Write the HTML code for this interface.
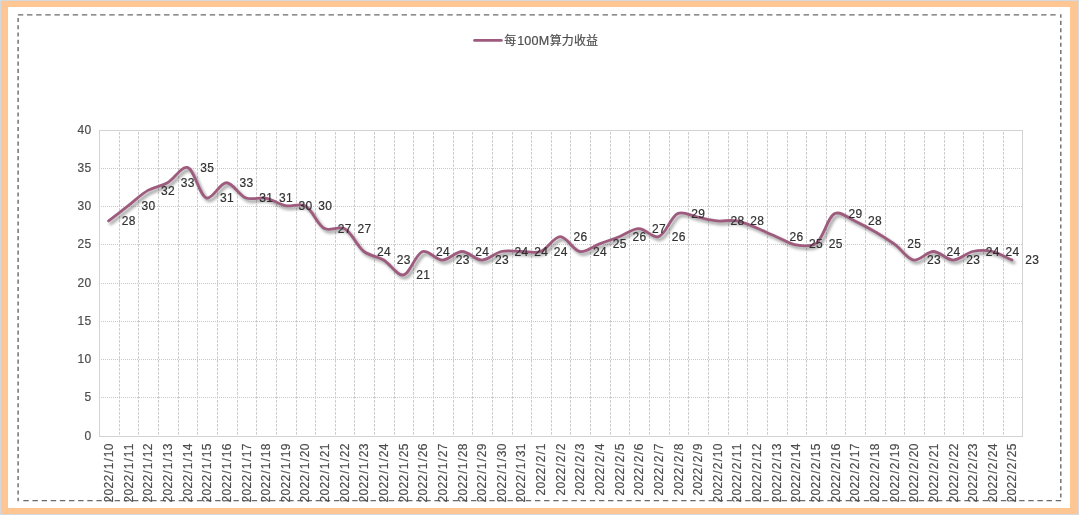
<!DOCTYPE html>
<html lang="zh-CN"><head><meta charset="utf-8"><title>每100M算力收益</title>
<style>html,body{margin:0;padding:0;background:#fff;overflow:hidden}svg{display:block}text{white-space:pre}</style></head>
<body>
<svg width="1079" height="515" viewBox="0 0 1079 515" font-family='"Liberation Sans","Noto Sans CJK SC",sans-serif' font-size="12">
<defs><filter id="sh" x="-5%" y="-20%" width="110%" height="150%"><feGaussianBlur stdDeviation="1.6"/></filter><clipPath id="ca"><rect x="8" y="7" width="1062" height="494.7"/></clipPath></defs>
<rect x="0" y="0" width="1079" height="515" fill="#D5D8DC"/>
<rect x="1" y="1" width="1077" height="513" fill="#FDC692"/>
<rect x="8" y="7" width="1062" height="501" fill="#FFFFFF"/>
<g stroke="#6A6A6A" stroke-width="1.2" fill="none">
<line x1="17.9" y1="14.8" x2="1056" y2="14.8" stroke-dasharray="5.4 3.736"/>
<line x1="1061.1" y1="500.6" x2="20" y2="500.6" stroke-dasharray="5.4 3.736"/>
<line x1="18.1" y1="17.9" x2="18.1" y2="501.2" stroke-dasharray="4.15 3.12" stroke-width="1.4"/>
<line x1="1060.8" y1="14.2" x2="1060.8" y2="498" stroke-dasharray="4.15 3.12" stroke-dashoffset="0.6" stroke-width="1.4"/>
</g>
<g stroke="#CACACA" stroke-width="1" fill="none">
<line x1="101.0" y1="168.50" x2="1022.5" y2="168.50" stroke-dasharray="1 1" stroke="#C8C8C8"/>
<line x1="101.0" y1="206.50" x2="1022.5" y2="206.50" stroke-dasharray="1 1" stroke="#C8C8C8"/>
<line x1="101.0" y1="244.50" x2="1022.5" y2="244.50" stroke-dasharray="1 1" stroke="#C8C8C8"/>
<line x1="101.0" y1="283.50" x2="1022.5" y2="283.50" stroke-dasharray="1 1" stroke="#C8C8C8"/>
<line x1="101.0" y1="321.50" x2="1022.5" y2="321.50" stroke-dasharray="1 1" stroke="#C8C8C8"/>
<line x1="101.0" y1="359.50" x2="1022.5" y2="359.50" stroke-dasharray="1 1" stroke="#C8C8C8"/>
<line x1="101.0" y1="397.50" x2="1022.5" y2="397.50" stroke-dasharray="1 1" stroke="#C8C8C8"/>
<line x1="119.50" y1="132.1" x2="119.50" y2="436.5" stroke-dasharray="2.6 1.4"/>
<line x1="138.50" y1="132.1" x2="138.50" y2="436.5" stroke-dasharray="2.6 1.4"/>
<line x1="158.50" y1="132.1" x2="158.50" y2="436.5" stroke-dasharray="2.6 1.4"/>
<line x1="178.50" y1="132.1" x2="178.50" y2="436.5" stroke-dasharray="2.6 1.4"/>
<line x1="197.50" y1="132.1" x2="197.50" y2="436.5" stroke-dasharray="2.6 1.4"/>
<line x1="217.50" y1="132.1" x2="217.50" y2="436.5" stroke-dasharray="2.6 1.4"/>
<line x1="237.50" y1="132.1" x2="237.50" y2="436.5" stroke-dasharray="2.6 1.4"/>
<line x1="256.50" y1="132.1" x2="256.50" y2="436.5" stroke-dasharray="2.6 1.4"/>
<line x1="276.50" y1="132.1" x2="276.50" y2="436.5" stroke-dasharray="2.6 1.4"/>
<line x1="296.50" y1="132.1" x2="296.50" y2="436.5" stroke-dasharray="2.6 1.4"/>
<line x1="315.50" y1="132.1" x2="315.50" y2="436.5" stroke-dasharray="2.6 1.4"/>
<line x1="335.50" y1="132.1" x2="335.50" y2="436.5" stroke-dasharray="2.6 1.4"/>
<line x1="354.50" y1="132.1" x2="354.50" y2="436.5" stroke-dasharray="2.6 1.4"/>
<line x1="374.50" y1="132.1" x2="374.50" y2="436.5" stroke-dasharray="2.6 1.4"/>
<line x1="394.50" y1="132.1" x2="394.50" y2="436.5" stroke-dasharray="2.6 1.4"/>
<line x1="413.50" y1="132.1" x2="413.50" y2="436.5" stroke-dasharray="2.6 1.4"/>
<line x1="433.50" y1="132.1" x2="433.50" y2="436.5" stroke-dasharray="2.6 1.4"/>
<line x1="453.50" y1="132.1" x2="453.50" y2="436.5" stroke-dasharray="2.6 1.4"/>
<line x1="472.50" y1="132.1" x2="472.50" y2="436.5" stroke-dasharray="2.6 1.4"/>
<line x1="492.50" y1="132.1" x2="492.50" y2="436.5" stroke-dasharray="2.6 1.4"/>
<line x1="512.50" y1="132.1" x2="512.50" y2="436.5" stroke-dasharray="2.6 1.4"/>
<line x1="531.50" y1="132.1" x2="531.50" y2="436.5" stroke-dasharray="2.6 1.4"/>
<line x1="551.50" y1="132.1" x2="551.50" y2="436.5" stroke-dasharray="2.6 1.4"/>
<line x1="570.50" y1="132.1" x2="570.50" y2="436.5" stroke-dasharray="2.6 1.4"/>
<line x1="590.50" y1="132.1" x2="590.50" y2="436.5" stroke-dasharray="2.6 1.4"/>
<line x1="610.50" y1="132.1" x2="610.50" y2="436.5" stroke-dasharray="2.6 1.4"/>
<line x1="629.50" y1="132.1" x2="629.50" y2="436.5" stroke-dasharray="2.6 1.4"/>
<line x1="649.50" y1="132.1" x2="649.50" y2="436.5" stroke-dasharray="2.6 1.4"/>
<line x1="669.50" y1="132.1" x2="669.50" y2="436.5" stroke-dasharray="2.6 1.4"/>
<line x1="688.50" y1="132.1" x2="688.50" y2="436.5" stroke-dasharray="2.6 1.4"/>
<line x1="708.50" y1="132.1" x2="708.50" y2="436.5" stroke-dasharray="2.6 1.4"/>
<line x1="728.50" y1="132.1" x2="728.50" y2="436.5" stroke-dasharray="2.6 1.4"/>
<line x1="747.50" y1="132.1" x2="747.50" y2="436.5" stroke-dasharray="2.6 1.4"/>
<line x1="767.50" y1="132.1" x2="767.50" y2="436.5" stroke-dasharray="2.6 1.4"/>
<line x1="787.50" y1="132.1" x2="787.50" y2="436.5" stroke-dasharray="2.6 1.4"/>
<line x1="806.50" y1="132.1" x2="806.50" y2="436.5" stroke-dasharray="2.6 1.4"/>
<line x1="826.50" y1="132.1" x2="826.50" y2="436.5" stroke-dasharray="2.6 1.4"/>
<line x1="845.50" y1="132.1" x2="845.50" y2="436.5" stroke-dasharray="2.6 1.4"/>
<line x1="865.50" y1="132.1" x2="865.50" y2="436.5" stroke-dasharray="2.6 1.4"/>
<line x1="885.50" y1="132.1" x2="885.50" y2="436.5" stroke-dasharray="2.6 1.4"/>
<line x1="904.50" y1="132.1" x2="904.50" y2="436.5" stroke-dasharray="2.6 1.4"/>
<line x1="924.50" y1="132.1" x2="924.50" y2="436.5" stroke-dasharray="2.6 1.4"/>
<line x1="944.50" y1="132.1" x2="944.50" y2="436.5" stroke-dasharray="2.6 1.4"/>
<line x1="963.50" y1="132.1" x2="963.50" y2="436.5" stroke-dasharray="2.6 1.4"/>
<line x1="983.50" y1="132.1" x2="983.50" y2="436.5" stroke-dasharray="2.6 1.4"/>
<line x1="1003.50" y1="132.1" x2="1003.50" y2="436.5" stroke-dasharray="2.6 1.4"/>
<rect x="99.5" y="130.5" width="923.0" height="306.0" stroke="#D3D3D3"/>
</g>
<g fill="#4C4C4C" stroke="#4C4C4C" stroke-width="0.18">
<text x="84.56" y="439.70">0</text>
<text x="84.56" y="400.70">5</text>
<text x="77.56 84.56" y="362.70">10</text>
<text x="77.56 84.56" y="324.70">15</text>
<text x="77.56 84.56" y="286.70">20</text>
<text x="77.56 84.56" y="247.70">25</text>
<text x="77.56 84.56" y="209.70">30</text>
<text x="77.56 84.56" y="171.70">35</text>
<text x="77.56 84.56" y="133.70">40</text>
</g>
<g fill="#4C4C4C" stroke="#4C4C4C" stroke-width="0.18" clip-path="url(#ca)">
<text transform="translate(113.07,502.70) rotate(-90)" x="0.16 7.16 14.16 21.16 28.93 33.36 41.13 45.56 52.56" y="0">2022/1/10</text>
<text transform="translate(132.71,502.70) rotate(-90)" x="0.16 7.16 14.16 21.16 28.93 33.36 41.13 45.56 52.56" y="0">2022/1/11</text>
<text transform="translate(152.35,502.70) rotate(-90)" x="0.16 7.16 14.16 21.16 28.93 33.36 41.13 45.56 52.56" y="0">2022/1/12</text>
<text transform="translate(171.98,502.70) rotate(-90)" x="0.16 7.16 14.16 21.16 28.93 33.36 41.13 45.56 52.56" y="0">2022/1/13</text>
<text transform="translate(191.62,502.70) rotate(-90)" x="0.16 7.16 14.16 21.16 28.93 33.36 41.13 45.56 52.56" y="0">2022/1/14</text>
<text transform="translate(211.26,502.70) rotate(-90)" x="0.16 7.16 14.16 21.16 28.93 33.36 41.13 45.56 52.56" y="0">2022/1/15</text>
<text transform="translate(230.90,502.70) rotate(-90)" x="0.16 7.16 14.16 21.16 28.93 33.36 41.13 45.56 52.56" y="0">2022/1/16</text>
<text transform="translate(250.54,502.70) rotate(-90)" x="0.16 7.16 14.16 21.16 28.93 33.36 41.13 45.56 52.56" y="0">2022/1/17</text>
<text transform="translate(270.18,502.70) rotate(-90)" x="0.16 7.16 14.16 21.16 28.93 33.36 41.13 45.56 52.56" y="0">2022/1/18</text>
<text transform="translate(289.81,502.70) rotate(-90)" x="0.16 7.16 14.16 21.16 28.93 33.36 41.13 45.56 52.56" y="0">2022/1/19</text>
<text transform="translate(309.45,502.70) rotate(-90)" x="0.16 7.16 14.16 21.16 28.93 33.36 41.13 45.56 52.56" y="0">2022/1/20</text>
<text transform="translate(329.09,502.70) rotate(-90)" x="0.16 7.16 14.16 21.16 28.93 33.36 41.13 45.56 52.56" y="0">2022/1/21</text>
<text transform="translate(348.73,502.70) rotate(-90)" x="0.16 7.16 14.16 21.16 28.93 33.36 41.13 45.56 52.56" y="0">2022/1/22</text>
<text transform="translate(368.37,502.70) rotate(-90)" x="0.16 7.16 14.16 21.16 28.93 33.36 41.13 45.56 52.56" y="0">2022/1/23</text>
<text transform="translate(388.01,502.70) rotate(-90)" x="0.16 7.16 14.16 21.16 28.93 33.36 41.13 45.56 52.56" y="0">2022/1/24</text>
<text transform="translate(407.64,502.70) rotate(-90)" x="0.16 7.16 14.16 21.16 28.93 33.36 41.13 45.56 52.56" y="0">2022/1/25</text>
<text transform="translate(427.28,502.70) rotate(-90)" x="0.16 7.16 14.16 21.16 28.93 33.36 41.13 45.56 52.56" y="0">2022/1/26</text>
<text transform="translate(446.92,502.70) rotate(-90)" x="0.16 7.16 14.16 21.16 28.93 33.36 41.13 45.56 52.56" y="0">2022/1/27</text>
<text transform="translate(466.56,502.70) rotate(-90)" x="0.16 7.16 14.16 21.16 28.93 33.36 41.13 45.56 52.56" y="0">2022/1/28</text>
<text transform="translate(486.20,502.70) rotate(-90)" x="0.16 7.16 14.16 21.16 28.93 33.36 41.13 45.56 52.56" y="0">2022/1/29</text>
<text transform="translate(505.84,502.70) rotate(-90)" x="0.16 7.16 14.16 21.16 28.93 33.36 41.13 45.56 52.56" y="0">2022/1/30</text>
<text transform="translate(525.47,502.70) rotate(-90)" x="0.16 7.16 14.16 21.16 28.93 33.36 41.13 45.56 52.56" y="0">2022/1/31</text>
<text transform="translate(545.11,495.70) rotate(-90)" x="0.16 7.16 14.16 21.16 28.93 33.36 41.13 45.56" y="0">2022/2/1</text>
<text transform="translate(564.75,495.70) rotate(-90)" x="0.16 7.16 14.16 21.16 28.93 33.36 41.13 45.56" y="0">2022/2/2</text>
<text transform="translate(584.39,495.70) rotate(-90)" x="0.16 7.16 14.16 21.16 28.93 33.36 41.13 45.56" y="0">2022/2/3</text>
<text transform="translate(604.03,495.70) rotate(-90)" x="0.16 7.16 14.16 21.16 28.93 33.36 41.13 45.56" y="0">2022/2/4</text>
<text transform="translate(623.66,495.70) rotate(-90)" x="0.16 7.16 14.16 21.16 28.93 33.36 41.13 45.56" y="0">2022/2/5</text>
<text transform="translate(643.30,495.70) rotate(-90)" x="0.16 7.16 14.16 21.16 28.93 33.36 41.13 45.56" y="0">2022/2/6</text>
<text transform="translate(662.94,495.70) rotate(-90)" x="0.16 7.16 14.16 21.16 28.93 33.36 41.13 45.56" y="0">2022/2/7</text>
<text transform="translate(682.58,495.70) rotate(-90)" x="0.16 7.16 14.16 21.16 28.93 33.36 41.13 45.56" y="0">2022/2/8</text>
<text transform="translate(702.22,495.70) rotate(-90)" x="0.16 7.16 14.16 21.16 28.93 33.36 41.13 45.56" y="0">2022/2/9</text>
<text transform="translate(721.86,502.70) rotate(-90)" x="0.16 7.16 14.16 21.16 28.93 33.36 41.13 45.56 52.56" y="0">2022/2/10</text>
<text transform="translate(741.49,502.70) rotate(-90)" x="0.16 7.16 14.16 21.16 28.93 33.36 41.13 45.56 52.56" y="0">2022/2/11</text>
<text transform="translate(761.13,502.70) rotate(-90)" x="0.16 7.16 14.16 21.16 28.93 33.36 41.13 45.56 52.56" y="0">2022/2/12</text>
<text transform="translate(780.77,502.70) rotate(-90)" x="0.16 7.16 14.16 21.16 28.93 33.36 41.13 45.56 52.56" y="0">2022/2/13</text>
<text transform="translate(800.41,502.70) rotate(-90)" x="0.16 7.16 14.16 21.16 28.93 33.36 41.13 45.56 52.56" y="0">2022/2/14</text>
<text transform="translate(820.05,502.70) rotate(-90)" x="0.16 7.16 14.16 21.16 28.93 33.36 41.13 45.56 52.56" y="0">2022/2/15</text>
<text transform="translate(839.69,502.70) rotate(-90)" x="0.16 7.16 14.16 21.16 28.93 33.36 41.13 45.56 52.56" y="0">2022/2/16</text>
<text transform="translate(859.32,502.70) rotate(-90)" x="0.16 7.16 14.16 21.16 28.93 33.36 41.13 45.56 52.56" y="0">2022/2/17</text>
<text transform="translate(878.96,502.70) rotate(-90)" x="0.16 7.16 14.16 21.16 28.93 33.36 41.13 45.56 52.56" y="0">2022/2/18</text>
<text transform="translate(898.60,502.70) rotate(-90)" x="0.16 7.16 14.16 21.16 28.93 33.36 41.13 45.56 52.56" y="0">2022/2/19</text>
<text transform="translate(918.24,502.70) rotate(-90)" x="0.16 7.16 14.16 21.16 28.93 33.36 41.13 45.56 52.56" y="0">2022/2/20</text>
<text transform="translate(937.88,502.70) rotate(-90)" x="0.16 7.16 14.16 21.16 28.93 33.36 41.13 45.56 52.56" y="0">2022/2/21</text>
<text transform="translate(957.52,502.70) rotate(-90)" x="0.16 7.16 14.16 21.16 28.93 33.36 41.13 45.56 52.56" y="0">2022/2/22</text>
<text transform="translate(977.15,502.70) rotate(-90)" x="0.16 7.16 14.16 21.16 28.93 33.36 41.13 45.56 52.56" y="0">2022/2/23</text>
<text transform="translate(996.79,502.70) rotate(-90)" x="0.16 7.16 14.16 21.16 28.93 33.36 41.13 45.56 52.56" y="0">2022/2/24</text>
<text transform="translate(1016.43,502.70) rotate(-90)" x="0.16 7.16 14.16 21.16 28.93 33.36 41.13 45.56 52.56" y="0">2022/2/25</text>
</g>
<path d="M109.32,222.15C115.87,217.06 122.41,211.97 128.96,206.88C135.50,201.78 141.75,195.48 148.60,191.60C154.89,188.03 161.94,187.53 168.23,183.96C175.08,180.08 181.84,167.66 187.87,168.69C195.16,169.93 200.22,197.99 207.51,199.24C213.55,200.27 220.60,183.96 227.15,183.96C233.70,183.96 239.81,196.84 246.79,199.24C252.99,201.37 259.99,198.03 266.43,199.24C273.09,200.49 279.40,205.62 286.06,206.88C292.50,208.08 299.72,204.12 305.70,206.88C313.12,210.29 317.93,226.38 325.34,229.79C331.32,232.54 339.00,227.04 344.98,229.79C352.39,233.20 357.41,247.37 364.62,252.70C370.69,257.19 377.92,257.55 384.26,261.25C391.05,265.23 397.66,276.85 403.89,276.15C410.83,275.36 416.29,254.41 423.53,252.70C429.59,251.27 436.62,261.25 443.17,261.25C449.72,261.25 456.26,252.70 462.81,252.70C469.35,252.70 475.90,261.25 482.45,261.25C488.99,261.25 495.39,254.09 502.09,252.70C508.50,251.36 515.18,252.70 521.72,252.70C528.27,252.70 535.14,254.78 541.36,252.70C548.32,250.37 554.45,237.88 561.00,237.88C567.55,237.88 573.82,251.75 580.64,252.70C586.95,253.57 593.72,247.54 600.28,245.06C606.81,242.60 613.39,240.42 619.91,237.88C626.49,235.33 633.01,229.79 639.55,229.79C646.10,229.79 653.14,239.37 659.19,237.88C666.45,236.10 671.43,217.13 678.83,214.51C684.82,212.39 691.92,217.06 698.47,218.33C705.01,219.60 711.53,221.52 718.11,222.15C724.62,222.78 730.24,220.70 737.74,222.15C748.76,224.28 766.19,233.46 777.02,237.88C784.70,241.02 789.98,244.90 796.66,246.06C803.08,247.17 810.48,248.43 816.30,245.06C824.20,240.49 828.23,217.02 835.94,214.51C841.81,212.60 848.07,218.53 855.57,222.15C866.60,227.47 884.24,237.67 894.85,245.06C902.79,250.60 907.64,260.29 914.49,261.25C920.78,262.14 927.58,252.70 934.13,252.70C940.67,252.70 947.22,261.25 953.77,261.25C960.31,261.25 966.71,254.09 973.40,252.70C979.81,251.36 986.63,251.36 993.04,252.70C999.74,254.09 1006.13,258.40 1012.68,261.25" transform="translate(1.5000000000000002,1.4000000000000001)" fill="none" stroke="#000" stroke-opacity="0.36" stroke-width="3.2" stroke-linecap="round" stroke-linejoin="round" filter="url(#sh)"/>
<path d="M109.32,222.15C115.87,217.06 122.41,211.97 128.96,206.88C135.50,201.78 141.75,195.48 148.60,191.60C154.89,188.03 161.94,187.53 168.23,183.96C175.08,180.08 181.84,167.66 187.87,168.69C195.16,169.93 200.22,197.99 207.51,199.24C213.55,200.27 220.60,183.96 227.15,183.96C233.70,183.96 239.81,196.84 246.79,199.24C252.99,201.37 259.99,198.03 266.43,199.24C273.09,200.49 279.40,205.62 286.06,206.88C292.50,208.08 299.72,204.12 305.70,206.88C313.12,210.29 317.93,226.38 325.34,229.79C331.32,232.54 339.00,227.04 344.98,229.79C352.39,233.20 357.41,247.37 364.62,252.70C370.69,257.19 377.92,257.55 384.26,261.25C391.05,265.23 397.66,276.85 403.89,276.15C410.83,275.36 416.29,254.41 423.53,252.70C429.59,251.27 436.62,261.25 443.17,261.25C449.72,261.25 456.26,252.70 462.81,252.70C469.35,252.70 475.90,261.25 482.45,261.25C488.99,261.25 495.39,254.09 502.09,252.70C508.50,251.36 515.18,252.70 521.72,252.70C528.27,252.70 535.14,254.78 541.36,252.70C548.32,250.37 554.45,237.88 561.00,237.88C567.55,237.88 573.82,251.75 580.64,252.70C586.95,253.57 593.72,247.54 600.28,245.06C606.81,242.60 613.39,240.42 619.91,237.88C626.49,235.33 633.01,229.79 639.55,229.79C646.10,229.79 653.14,239.37 659.19,237.88C666.45,236.10 671.43,217.13 678.83,214.51C684.82,212.39 691.92,217.06 698.47,218.33C705.01,219.60 711.53,221.52 718.11,222.15C724.62,222.78 730.24,220.70 737.74,222.15C748.76,224.28 766.19,233.46 777.02,237.88C784.70,241.02 789.98,244.90 796.66,246.06C803.08,247.17 810.48,248.43 816.30,245.06C824.20,240.49 828.23,217.02 835.94,214.51C841.81,212.60 848.07,218.53 855.57,222.15C866.60,227.47 884.24,237.67 894.85,245.06C902.79,250.60 907.64,260.29 914.49,261.25C920.78,262.14 927.58,252.70 934.13,252.70C940.67,252.70 947.22,261.25 953.77,261.25C960.31,261.25 966.71,254.09 973.40,252.70C979.81,251.36 986.63,251.36 993.04,252.70C999.74,254.09 1006.13,258.40 1012.68,261.25" transform="translate(-0.7,-1.2)" fill="none" stroke="#9E5B7E" stroke-width="2.8" stroke-linecap="round" stroke-linejoin="round"/>
<g fill="#303030" stroke="#303030" stroke-width="0.18">
<text x="121.78 128.78" y="225.15">28</text>
<text x="141.42 148.42" y="209.88">30</text>
<text x="161.06 168.06" y="194.60">32</text>
<text x="180.70 187.70" y="186.96">33</text>
<text x="200.34 207.34" y="171.69">35</text>
<text x="219.97 226.97" y="202.24">31</text>
<text x="239.61 246.61" y="186.96">33</text>
<text x="259.25 266.25" y="202.24">31</text>
<text x="278.89 285.89" y="202.24">31</text>
<text x="298.53 305.53" y="209.88">30</text>
<text x="318.17 325.17" y="209.88">30</text>
<text x="337.80 344.80" y="232.79">27</text>
<text x="357.44 364.44" y="232.79">27</text>
<text x="377.08 384.08" y="255.70">24</text>
<text x="396.72 403.72" y="264.25">23</text>
<text x="416.36 423.36" y="279.15">21</text>
<text x="435.99 442.99" y="255.70">24</text>
<text x="455.63 462.63" y="264.25">23</text>
<text x="475.27 482.27" y="255.70">24</text>
<text x="494.91 501.91" y="264.25">23</text>
<text x="514.55 521.55" y="255.70">24</text>
<text x="534.19 541.19" y="255.70">24</text>
<text x="553.82 560.82" y="255.70">24</text>
<text x="573.46 580.46" y="241.33">26</text>
<text x="593.10 600.10" y="255.70">24</text>
<text x="612.74 619.74" y="248.06">25</text>
<text x="632.38 639.38" y="241.33">26</text>
<text x="652.02 659.02" y="232.79">27</text>
<text x="671.65 678.65" y="241.33">26</text>
<text x="691.29 698.29" y="217.51">29</text>
<text x="730.57 737.57" y="225.15">28</text>
<text x="750.21 757.21" y="225.15">28</text>
<text x="789.48 796.48" y="241.33">26</text>
<text x="809.12 816.12" y="248.06">25</text>
<text x="828.76 835.76" y="248.06">25</text>
<text x="848.40 855.40" y="217.51">29</text>
<text x="868.04 875.04" y="225.15">28</text>
<text x="907.31 914.31" y="248.06">25</text>
<text x="926.95 933.95" y="264.25">23</text>
<text x="946.59 953.59" y="255.70">24</text>
<text x="966.23 973.23" y="264.25">23</text>
<text x="985.87 992.87" y="255.70">24</text>
<text x="1005.51 1012.51" y="255.70">24</text>
<text x="1025.14 1032.14" y="264.25">23</text>
</g>
<line x1="474.6" y1="40.4" x2="501.3" y2="40.4" stroke="#9E5B7E" stroke-width="2.9" stroke-linecap="round"/>
<text y="45.3" fill="#4C4C4C" stroke="#4C4C4C" stroke-width="0.18"><tspan x="504.3">每</tspan><tspan x="517.2" font-size="12.6" letter-spacing="0.15">100M</tspan><tspan x="549.8" letter-spacing="0.07">算力收益</tspan></text>
</svg>
</body></html>
